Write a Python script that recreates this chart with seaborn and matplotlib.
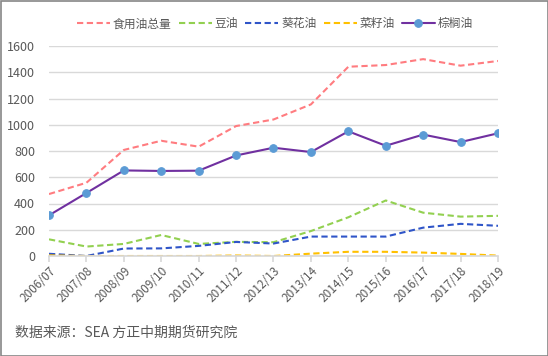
import matplotlib
matplotlib.use("Agg")
import matplotlib.pyplot as plt
import seaborn as sns
import pandas as pd
from matplotlib.patches import Rectangle

years = ["2006/07", "2007/08", "2008/09", "2009/10", "2010/11", "2011/12", "2012/13",
         "2013/14", "2014/15", "2015/16", "2016/17", "2017/18", "2018/19"]
total = [472, 558, 808, 878, 833, 990, 1040, 1155, 1442, 1455, 1500, 1450, 1486]
soybean = [127, 72, 92, 160, 92, 108, 105, 190, 295, 423, 330, 300, 306]
sunflower = [17, 0, 57, 58, 77, 107, 95, 148, 148, 148, 216, 245, 230]
rapeseed = [5, 0, 0, 0, 0, 4, 0, 18, 32, 32, 26, 16, 3]
palm = [310, 480, 652, 648, 650, 766, 825, 792, 950, 840, 925, 868, 935]

names = ["食用油总量", "豆油", "葵花油", "菜籽油", "棕榈油"]
series = [total, soybean, sunflower, rapeseed, palm]
colors = ["#FF7C80", "#92D050", "#2F55C8", "#FFC000", "#7030A0"]

sns.set_theme(style="white")
plt.rcParams['font.family'] = ['Noto Sans CJK SC', 'DejaVu Sans']

fig = plt.figure(figsize=(5.48, 3.56), dpi=100)
ax = fig.add_axes([49 / 548, 1 - 256 / 356, (498 - 49) / 548, (256 - 46) / 356])

for name, vals, c in zip(names, series, colors):
    df = pd.DataFrame({"year": years, "value": vals})
    if name == "棕榈油":
        sns.lineplot(data=df, x="year", y="value", ax=ax, color=c, linewidth=1.5,
                     marker="o", markersize=5.5, markerfacecolor="#5B9BD5",
                     markeredgecolor="#5B9BD5", label=name, sort=False)
    else:
        l = sns.lineplot(data=df, x="year", y="value", ax=ax, color=c, linewidth=1.5,
                         label=name, sort=False)
        l.get_lines()[-1].set_dashes([3, 1.7])

ax.set_xlim(0, 12)
ax.set_ylim(0, 1600)
ax.set_yticks(range(0, 1601, 200))
ax.yaxis.grid(True, color="#D9D9D9", linewidth=1)
ax.set_axisbelow(True)
for s in ["top", "right", "left"]:
    ax.spines[s].set_visible(False)
ax.spines["bottom"].set_color("#D9D9D9")
ax.set_xlabel("")
ax.set_ylabel("")
ax.tick_params(axis="y", labelsize=9, colors="#595959", length=0, pad=10)
ax.tick_params(axis="x", labelsize=8.5, colors="#595959", length=4, color="#D9D9D9",
               direction="out", bottom=True, pad=2)
plt.setp(ax.get_xticklabels(), rotation=45, ha="right", rotation_mode="anchor")

handles, labels = ax.get_legend_handles_labels()
leg = ax.legend(handles, labels, ncol=5, loc="center", bbox_to_anchor=(275 / 548, 1 - 24 / 356),
                bbox_transform=fig.transFigure, frameon=False, fontsize=8.5,
                handlelength=2.8, columnspacing=0.6, handletextpad=0.25)
for t in leg.get_texts():
    t.set_color("#595959")

fig.text(15 / 548, 1 - 333 / 356, "数据来源：SEA 方正中期期货研究院", fontsize=10,
         color="#595959", va="center", ha="left")

fig.add_artist(Rectangle((0.5 / 548, 0.5 / 356), 547 / 548, 355 / 356, transform=fig.transFigure,
                         fill=False, edgecolor="#868686", linewidth=1.2))

fig.savefig("out.png", dpi=100)
